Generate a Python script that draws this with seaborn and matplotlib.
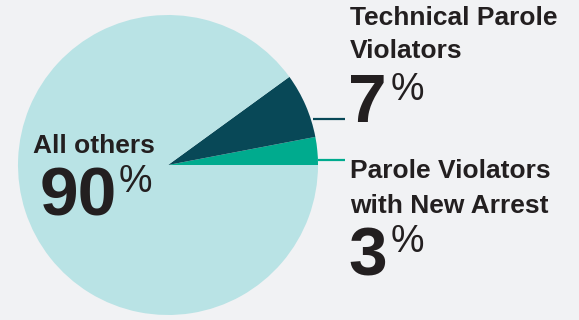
import matplotlib
matplotlib.use('Agg')
import matplotlib.pyplot as plt
import seaborn as sns

# data
labels = ['Parole Violators\nwith New Arrest', 'Technical Parole\nViolators', 'All others']
shares = [3, 7, 90]
colors = ['#00ab8e', '#084857', '#b9e3e5']

sns.set_theme(style='white')
plt.rcParams['font.family'] = ['Liberation Sans', 'DejaVu Sans']

bg = '#f1f2f4'
ink = '#231f20'
W, H = 579, 320

fig = plt.figure(figsize=(W / 100, H / 100), dpi=100, facecolor=bg)
ax = fig.add_axes([0, 0, 1, 1])
ax.set_facecolor(bg)

ax.pie(shares, colors=colors, startangle=0, counterclock=True,
       center=(168, H - 165), radius=150,
       wedgeprops=dict(linewidth=0))
ax.set_xlim(0, W)
ax.set_ylim(0, H)
ax.set_aspect('auto')
ax.axis('off')

# leader lines
ax.plot([313, 345], [H - 119, H - 119], color=colors[1], lw=1.6, solid_capstyle='butt')
ax.plot([318, 345], [H - 160, H - 160], color=colors[0], lw=1.6, solid_capstyle='butt')

lab_kw = dict(fontsize=19, fontweight='bold', color=ink, va='baseline', ha='left')
num_kw = dict(fontsize=50, fontweight='bold', color=ink, va='baseline', ha='left')
pct_kw = dict(fontsize=27, color=ink, va='baseline', ha='left')

# Technical Parole Violators
ax.text(350, H - 25, labels[1].split('\n')[0], **lab_kw)
ax.text(350, H - 58, labels[1].split('\n')[1], **lab_kw)
ax.text(348, H - 122, f'{shares[1]}', **num_kw)
ax.text(391, H - 100, '%', **pct_kw)

# Parole Violators with New Arrest
ax.text(350, H - 178, labels[0].split('\n')[0], **lab_kw)
ax.text(350, H - 213, labels[0].split('\n')[1], **lab_kw)
ax.text(348, H - 275, f'{shares[0]}', **num_kw)
ax.text(391, H - 252, '%', **pct_kw)

# All others
ax.text(33, H - 153, labels[2], **lab_kw)
ax.text(40, H - 215, f'{shares[2]}', **num_kw)
ax.text(119, H - 192, '%', **pct_kw)

fig.savefig('out.png', dpi=100, facecolor=bg)
